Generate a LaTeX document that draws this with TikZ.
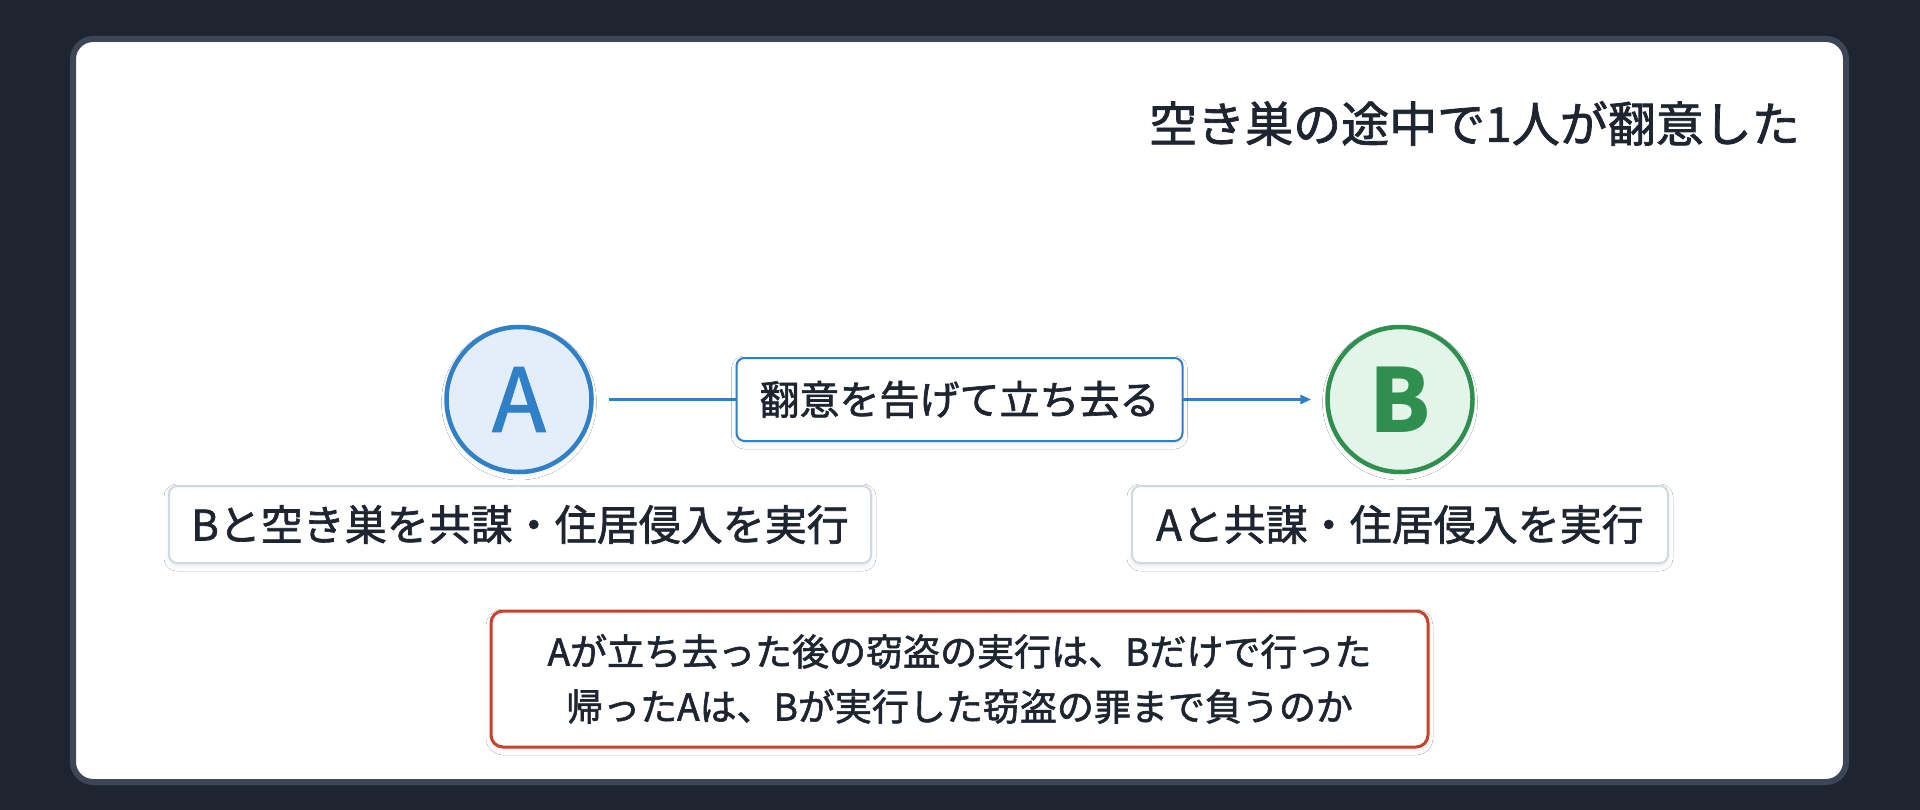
\documentclass[tikz,border=0pt]{standalone}
\usepackage{fontspec}
\setmainfont{Noto Sans CJK JP}
\newfontfamily\medfont{Noto Sans CJK JP}[FakeBold=1.6]
\usetikzlibrary{arrows.meta,shadows.blur}
\definecolor{bg}{HTML}{1E2530}
\definecolor{panelline}{HTML}{3C4656}
\definecolor{ink}{HTML}{1E2530}
\definecolor{blueline}{HTML}{3080C8}
\definecolor{bluefill}{HTML}{E3EEFA}
\definecolor{greenline}{HTML}{2E8F4F}
\definecolor{greenfill}{HTML}{E3F5E8}
\definecolor{grayline}{HTML}{CFD8E3}
\definecolor{redline}{HTML}{C8412B}
\tikzset{
  softshadow/.style={blur shadow={shadow xshift=0pt, shadow yshift=-3pt, shadow opacity=8, shadow blur radius=5pt}},
  personA/.style={circle, draw=blueline, line width=4.5pt, fill=bluefill, minimum size=145pt, inner sep=0pt, text=blueline, font=\medfont\fontsize{88}{100}\selectfont, softshadow},
  personB/.style={circle, draw=greenline, line width=4.5pt, fill=greenfill, minimum size=145pt, inner sep=0pt, text=greenline, font=\fontsize{88}{100}\selectfont\bfseries, softshadow},
  labelbox/.style={draw=grayline, line width=2pt, fill=white, rounded corners=8pt, minimum height=77pt, inner sep=0pt, text=ink, font=\medfont\fontsize{42}{50}\selectfont, softshadow},
  edgebox/.style={draw=blueline, line width=2pt, fill=white, rounded corners=8pt, minimum width=446pt, minimum height=83pt, inner sep=0pt, text=ink, font=\medfont\fontsize{40}{48}\selectfont, softshadow},
  questionbox/.style={draw=redline, line width=3pt, fill=white, rounded corners=12pt, minimum width=937pt, minimum height=136pt, inner sep=0pt, text=ink, align=center, font=\medfont\fontsize{37}{55}\selectfont, softshadow},
  connector/.style={draw=blueline, line width=3pt, -{Triangle[length=11pt,width=9pt]}, shorten <=15pt, shorten >=14pt},
  titletext/.style={anchor=east, inner sep=0pt, text=ink, font=\medfont\fontsize{48}{58}\selectfont}
}
\begin{document}
\begin{tikzpicture}[x=1pt,y=-1pt]
\useasboundingbox (0,0) rectangle (1920,810);
\fill[bg] (0,0) rectangle (1920,810);
\draw[panelline, line width=6pt, fill=white, rounded corners=20pt] (73,39) rectangle (1846,782);

\node[titletext] (title) at (1800,123.5) {空き巣の途中で1人が翻意した};

\node[personA] (A) at (519,399.5) {A};
\node[personB] (B) at (1400,399.5) {B};

\draw[connector] (A) -- node[edgebox] (act) {翻意を告げて立ち去る} (B);

\node[labelbox, minimum width=702pt] (labA) at (520,524.5) {Bと空き巣を共謀・住居侵入を実行};
\node[labelbox, minimum width=536pt] (labB) at (1400,524.5) {Aと共謀・住居侵入を実行};

\node[questionbox] (q) at (959.5,679) {Aが立ち去った後の窃盗の実行は、Bだけで行った\\帰ったAは、Bが実行した窃盗の罪まで負うのか};
\end{tikzpicture}
\end{document}
